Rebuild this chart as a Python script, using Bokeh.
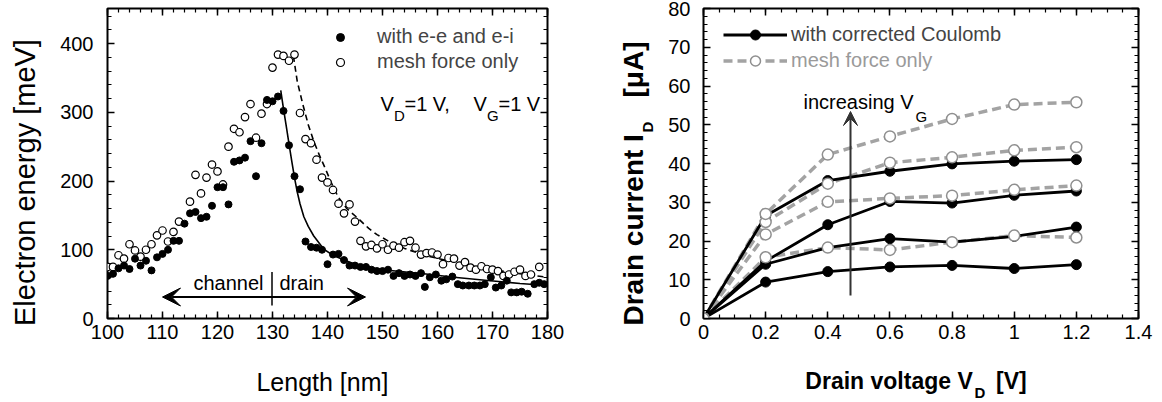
import math
from bokeh.plotting import figure
from bokeh.models import (LinearAxis, FixedTicker, Range1d, Label, Arrow, VeeHead,
                          Legend, LegendItem, CustomJSTickFormatter)
from bokeh.layouts import row, column
from bokeh.embed import file_html
from bokeh.resources import INLINE

FONT = "Liberation Sans"

# ---------------- left panel data: electron energy vs length ----------------
ee_len = [100, 101, 102, 103, 104, 105, 106, 107, 108, 109, 110, 111, 112, 113, 114, 115,
          116, 117, 118, 119, 120, 121, 122, 123, 124, 125, 126, 127, 128, 129, 130, 131,
          132, 133, 134, 135, 136, 137, 138, 139, 140, 141, 142, 143, 144, 145, 146, 147,
          148, 149, 150, 151, 152, 153, 154, 155, 156, 157, 157.7, 158.6, 159.7, 160.7,
          161.6, 162.7, 163.7, 164.6, 165.7, 166.7, 167.7, 168.6, 169.7, 170.6, 171.6,
          172.6, 173.4, 174.4, 175.3, 176.4, 177.6, 178.5, 179.4]
ee_energy = [62, 65, 73, 77, 72, 87, 77, 84, 70, 89, 94, 100, 113, 113, 138, 153,
             155, 146, 148, 164, 191, 191, 166, 228, 230, 234, 258, 207, 255, 318, 316, 323,
             302, 252, 207, 188, 112, 104, 103, 100, 79, 93, 94, 85, 77, 77, 75, 75,
             71, 69, 69, 71, 62, 66, 62, 64, 62, 66, 46, 60, 64, 55,
             57, 61, 50, 48, 48, 48, 48, 50, 60, 45, 48,
             55, 38, 38, 39, 36, 50, 52, 50]
mesh_len = [100, 101, 102, 103, 104, 105, 106, 107, 108, 109, 110, 111, 112, 113, 115,
            116, 117, 118, 119, 120, 121, 122, 123, 124, 125, 126, 127, 128, 129, 130, 131,
            132, 133, 134, 135, 136, 137, 138, 139, 140, 141, 142, 143, 144, 145, 146, 147,
            148, 149, 150, 151, 152, 153, 154, 155, 156, 157, 158, 159, 160, 161, 162, 163,
            164, 165, 166, 167, 168, 169, 170, 171, 172, 173, 174, 175, 176, 177, 178.5]
mesh_energy = [75, 75, 92, 87, 108, 99, 90, 100, 108, 121, 128, 112, 126, 141, 170,
               209, 182, 205, 224, 214, 195, 250, 276, 271, 293, 312, 263, 298, 312, 365, 384,
               382, 375, 384, 299, 261, 255, 231, 205, 198, 187, 167, 153, 166, 141, 113, 105,
               107, 102, 108, 100, 106, 103, 111, 113, 103, 93, 95, 96, 93, 79, 88, 87,
               77, 82, 74, 71, 76, 72, 71, 69, 62, 64, 68, 71, 62, 64, 75]
ee_fit_len = [131.5, 132, 132.5, 133, 133.5, 134, 134.5, 135, 135.7, 136.5, 137.5, 139.3,
              141, 143, 145.4, 150, 157.5, 163, 169.6, 175, 180]
ee_fit_energy = [332, 305, 280, 254, 229, 205, 184, 167, 148, 134, 120, 101,
                 92, 85, 78, 71, 65, 60, 55, 51, 48]
mesh_fit_len = [133.8, 134.5, 135.5, 136.5, 137.5, 138.5, 139.5, 141, 142, 143.5, 145.5,
                147.5, 149, 151, 154, 158, 162, 166, 170, 175, 180]
mesh_fit_energy = [382, 345, 312, 282, 258, 238, 220, 192, 176, 160, 146,
                   131, 122, 113, 102, 91, 84, 77, 71, 65, 60]

# ---------------- right panel data: drain current vs drain voltage ----------------
vd = [0, 0.2, 0.4, 0.6, 0.8, 1.0, 1.2]
id_coulomb_1 = [0, 9.4, 12.1, 13.3, 13.7, 12.9, 13.9]
id_coulomb_2 = [0, 14.0, 18.3, 20.6, 19.7, 21.2, 23.6]
id_coulomb_3 = [0, 14.8, 24.2, 30.2, 29.8, 31.8, 32.9]
id_coulomb_4 = [0, 26.5, 35.6, 38.0, 39.9, 40.6, 41.0]
id_mesh_1 = [0, 15.8, 18.3, 17.7, 19.7, 21.4, 20.9]
id_mesh_2 = [0, 21.7, 30.1, 31.0, 31.7, 33.2, 34.3]
id_mesh_3 = [0, 24.9, 34.8, 40.2, 41.6, 43.4, 44.2]
id_mesh_4 = [0, 27.0, 42.3, 47.0, 51.5, 55.2, 55.8]

left_xticks = [100, 110, 120, 130, 140, 150, 160, 170, 180]
left_yticks = [0, 100, 200, 300, 400]
right_xticks = [0, 0.2, 0.4, 0.6, 0.8, 1.0, 1.2, 1.4]
right_yticks = [0, 10, 20, 30, 40, 50, 60, 70, 80]

GRAY = "#a3a3a3"
GRAY_TXT = "#9a9a9a"

# ---------------- layout geometry (page pixels) ----------------
MAIN_H = 360      # height of the two plot figures
XLAB_H = 40       # strip under each plot for the x label
TOTAL_H = MAIN_H + XLAB_H
L_YLAB_W = 54
L_MAIN_W = 554
R_YLAB_W = 48
R_MAIN_W = 504
MID = 0.35        # distance (in em) from the alphabetic baseline to the text middle


def base_fig(width, xr, yr, bl, br):
    p = figure(width=width, height=MAIN_H, x_range=Range1d(*xr), y_range=Range1d(*yr),
               output_backend="svg", toolbar_location=None,
               min_border_left=bl, min_border_right=br, min_border_top=8,
               min_border_bottom=42)
    p.grid.visible = False
    p.outline_line_color = "black"
    p.outline_line_width = 2
    p.background_fill_color = "white"
    p.border_fill_color = "white"
    return p


def text_fig(width, height):
    f = figure(width=width, height=height, x_range=Range1d(0, width),
               y_range=Range1d(0, height), output_backend="svg", toolbar_location=None,
               x_axis_type=None, y_axis_type=None, min_border=0,
               min_border_left=0, min_border_right=0, min_border_top=0, min_border_bottom=0)
    f.outline_line_color = None
    f.background_fill_color = "white"
    f.border_fill_color = "white"
    return f


def style_axes(p, xt, xminor, yt, yminor, xfmt=None):
    p.add_layout(LinearAxis(), "above")
    p.add_layout(LinearAxis(), "right")
    for ax in p.xaxis:
        ax.ticker = FixedTicker(ticks=xt, minor_ticks=xminor)
        if xfmt is not None:
            ax.formatter = xfmt
    for ax in p.yaxis:
        ax.ticker = FixedTicker(ticks=yt, minor_ticks=yminor)
    for ax in p.axis:
        ax.axis_line_color = None
        ax.major_tick_in = 7
        ax.major_tick_out = 0
        ax.minor_tick_in = 4
        ax.minor_tick_out = 0
        ax.major_tick_line_color = "black"
        ax.major_tick_line_width = 1.5
        ax.minor_tick_line_color = "black"
        ax.minor_tick_line_width = 1.2
        ax.major_label_text_font = FONT
        ax.major_label_text_font_size = "20px"
        ax.major_label_text_color = "black"
    p.below[0].major_label_standoff = 6
    p.left[0].major_label_standoff = 14
    for ax in (p.above[0], p.right[0]):
        ax.major_label_text_font_size = "1px"
        ax.major_label_text_color = None
        ax.major_label_standoff = 0


def add_label(p, x, y, text, size, bold=False, color="black", align="left", angle=0.0):
    p.add_layout(Label(x=x, y=y, text=text, text_font=FONT, text_font_size=f"{size}px",
                       text_font_style="bold" if bold else "normal", text_color=color,
                       text_align=align, text_baseline="middle", angle=angle))


# ---------------- left figure ----------------
L_XR = (100, 180)
L_YR = (0, 451)
L = base_fig(L_MAIN_W, L_XR, L_YR, 53, 61)
l_minor_x = [100 + 2 * i for i in range(41)]
l_minor_y = [20 * i for i in range(23)]
style_axes(L, left_xticks, l_minor_x, left_yticks, l_minor_y)

LF = dict(x0=107, x1=547, y0=318, y1=8)   # frame position on the page


def LX(px):
    return L_XR[0] + (px - LF["x0"]) * (L_XR[1] - L_XR[0]) / (LF["x1"] - LF["x0"])


def LY(py):
    return L_YR[0] + (LF["y0"] - py) * (L_YR[1] - L_YR[0]) / (LF["y0"] - LF["y1"])


def ltext(px, base_py, text, size, **kw):
    add_label(L, LX(px), LY(base_py - MID * size), text, size, **kw)


L.line(ee_fit_len, ee_fit_energy, line_color="black", line_width=1.6)
L.line(mesh_fit_len, mesh_fit_energy, line_color="black", line_width=1.6, line_dash="6 4")
r_mesh = L.scatter(mesh_len, mesh_energy, size=7.5, marker="circle", fill_color="white",
                   line_color="black", line_width=1.2)
r_ee = L.scatter(ee_len, ee_energy, size=7, marker="circle", fill_color="black",
                 line_color="black", line_width=1)

legL = Legend(items=[LegendItem(label="with e-e and e-i", renderers=[r_ee]),
                     LegendItem(label="mesh force only", renderers=[r_mesh])],
              location=(223, 245), padding=0, margin=0, spacing=2,
              glyph_width=20, glyph_height=20, label_height=20, label_standoff=27,
              label_text_font=FONT, label_text_font_size="20px",
              border_line_color=None, background_fill_alpha=0)
L.add_layout(legL)

ltext(380, 110, "V", 20)
ltext(393.5, 120, "D", 15)
ltext(404, 110, "=1 V,", 20)
ltext(473, 110, "V", 20)
ltext(486.5, 120, "G", 15)
ltext(498, 110, "=1 V", 20)

ltext(263, 289, "channel", 20, align="right")
ltext(279, 289, "drain", 20)
L.add_layout(Arrow(start=VeeHead(size=18, fill_color="black", line_color="black"),
                   end=VeeHead(size=18, fill_color="black", line_color="black"),
                   x_start=LX(162), y_start=LY(296.5), x_end=LX(365), y_end=LY(296.5),
                   line_color="black", line_width=2))
L.add_layout(Arrow(end=None, x_start=LX(271.5), y_start=LY(305), x_end=LX(271.5),
                   y_end=LY(271.5), line_color="black", line_width=1.5))

# left y label strip (page x 0..54) and x label strip (page x 54..608, y 360..400)
YL_L = text_fig(L_YLAB_W, TOTAL_H)
add_label(YL_L, 35 - MID * 29, TOTAL_H - 178, "Electron energy  [meV]", 29, align="center",
          angle=math.pi / 2)
XL_L = text_fig(L_MAIN_W, XLAB_H)
add_label(XL_L, 329 - L_YLAB_W, TOTAL_H - (390 - MID * 25), "Length  [nm]", 25,
          align="center")

# ---------------- right figure ----------------
R_XR = (0, 1.4)
R_YR = (0, 80)
R = base_fig(R_MAIN_W, R_XR, R_YR, 47, 22)
r_minor_x = [round(0.05 * i, 2) for i in range(29)]
r_minor_y = [2 * i for i in range(41)]
style_axes(R, right_xticks, r_minor_x, right_yticks, r_minor_y,
           xfmt=CustomJSTickFormatter(code="return String(Math.round(tick*100)/100);"))
R.left[0].major_label_standoff = 13

RF = dict(x0=703, x1=1138, y0=318, y1=8)


def RX(px):
    return R_XR[0] + (px - RF["x0"]) * (R_XR[1] - R_XR[0]) / (RF["x1"] - RF["x0"])


def RY(py):
    return R_YR[0] + (RF["y0"] - py) * (R_YR[1] - R_YR[0]) / (RF["y0"] - RF["y1"])


def rtext(px, base_py, text, size, **kw):
    add_label(R, RX(px), RY(base_py - MID * size), text, size, **kw)


mesh_series = [id_mesh_1, id_mesh_2, id_mesh_3, id_mesh_4]
coul_series = [id_coulomb_1, id_coulomb_2, id_coulomb_3, id_coulomb_4]
mesh_lines = [R.line(vd, s, line_color=GRAY, line_width=3.5, line_dash="9 5")
              for s in mesh_series]
coul_lines = [R.line(vd, s, line_color="black", line_width=2.8) for s in coul_series]
coul_marks = [R.scatter(vd, s, size=10, marker="circle", fill_color="black",
                        line_color="black", line_width=1) for s in coul_series]
mesh_marks = [R.scatter(vd, s, size=11, marker="circle", fill_color="white",
                        line_color="#8f8f8f", line_width=1.5) for s in mesh_series]

legR1 = Legend(items=[LegendItem(label="with corrected Coulomb",
                                 renderers=[coul_lines[0], coul_marks[0]])],
               location=(20, 271), padding=0, margin=0, spacing=0,
               glyph_width=64, glyph_height=25, label_height=25, label_standoff=4,
               label_text_font=FONT, label_text_font_size="20px",
               border_line_color=None, background_fill_alpha=0)
legR2 = Legend(items=[LegendItem(label="mesh force only",
                                 renderers=[mesh_lines[0], mesh_marks[0]])],
               location=(20, 245), padding=0, margin=0, spacing=0,
               glyph_width=64, glyph_height=25, label_height=25, label_standoff=4,
               label_text_font=FONT, label_text_font_size="20px",
               label_text_color=GRAY_TXT,
               border_line_color=None, background_fill_alpha=0)
R.add_layout(legR1)
R.add_layout(legR2)

R.add_layout(Arrow(end=VeeHead(size=14, fill_color="#333333", line_color="#333333"),
                   x_start=RX(850), y_start=RY(295), x_end=RX(850), y_end=RY(111),
                   line_color="#333333", line_width=2))
rtext(803, 108, "increasing V", 20)
rtext(915, 121, "G", 15)

# right y label strip (page x 608..656)
YL_R = text_fig(R_YLAB_W, TOTAL_H)
x0 = 608
add_label(YL_R, 643 - MID * 28 - x0, TOTAL_H - 325, "Drain current I", 28, bold=True,
          angle=math.pi / 2)
add_label(YL_R, 652 - MID * 15 - x0, TOTAL_H - 132, "D", 15, bold=True, angle=math.pi / 2)
add_label(YL_R, 643 - MID * 28 - x0, TOTAL_H - 97, "[\u03bcA]", 28, bold=True,
          angle=math.pi / 2)

# right x label strip (page x 656..1160, y 360..400); main part anchored at its right end
XL_R = text_fig(R_MAIN_W, XLAB_H)
x1 = 656
add_label(XL_R, 968 - x1, TOTAL_H - (389 - MID * 23), "Drain voltage V", 23, bold=True,
          align="right")
add_label(XL_R, 970 - x1, TOTAL_H - (397 - MID * 15), "D", 15, bold=True)
add_label(XL_R, 995 - x1, TOTAL_H - (389 - MID * 23), "[V]", 23, bold=True)

layout = row(row(YL_L, column(L, XL_L)), row(YL_R, column(R, XL_R)))
open("out.html", "w").write(file_html(layout, INLINE))
